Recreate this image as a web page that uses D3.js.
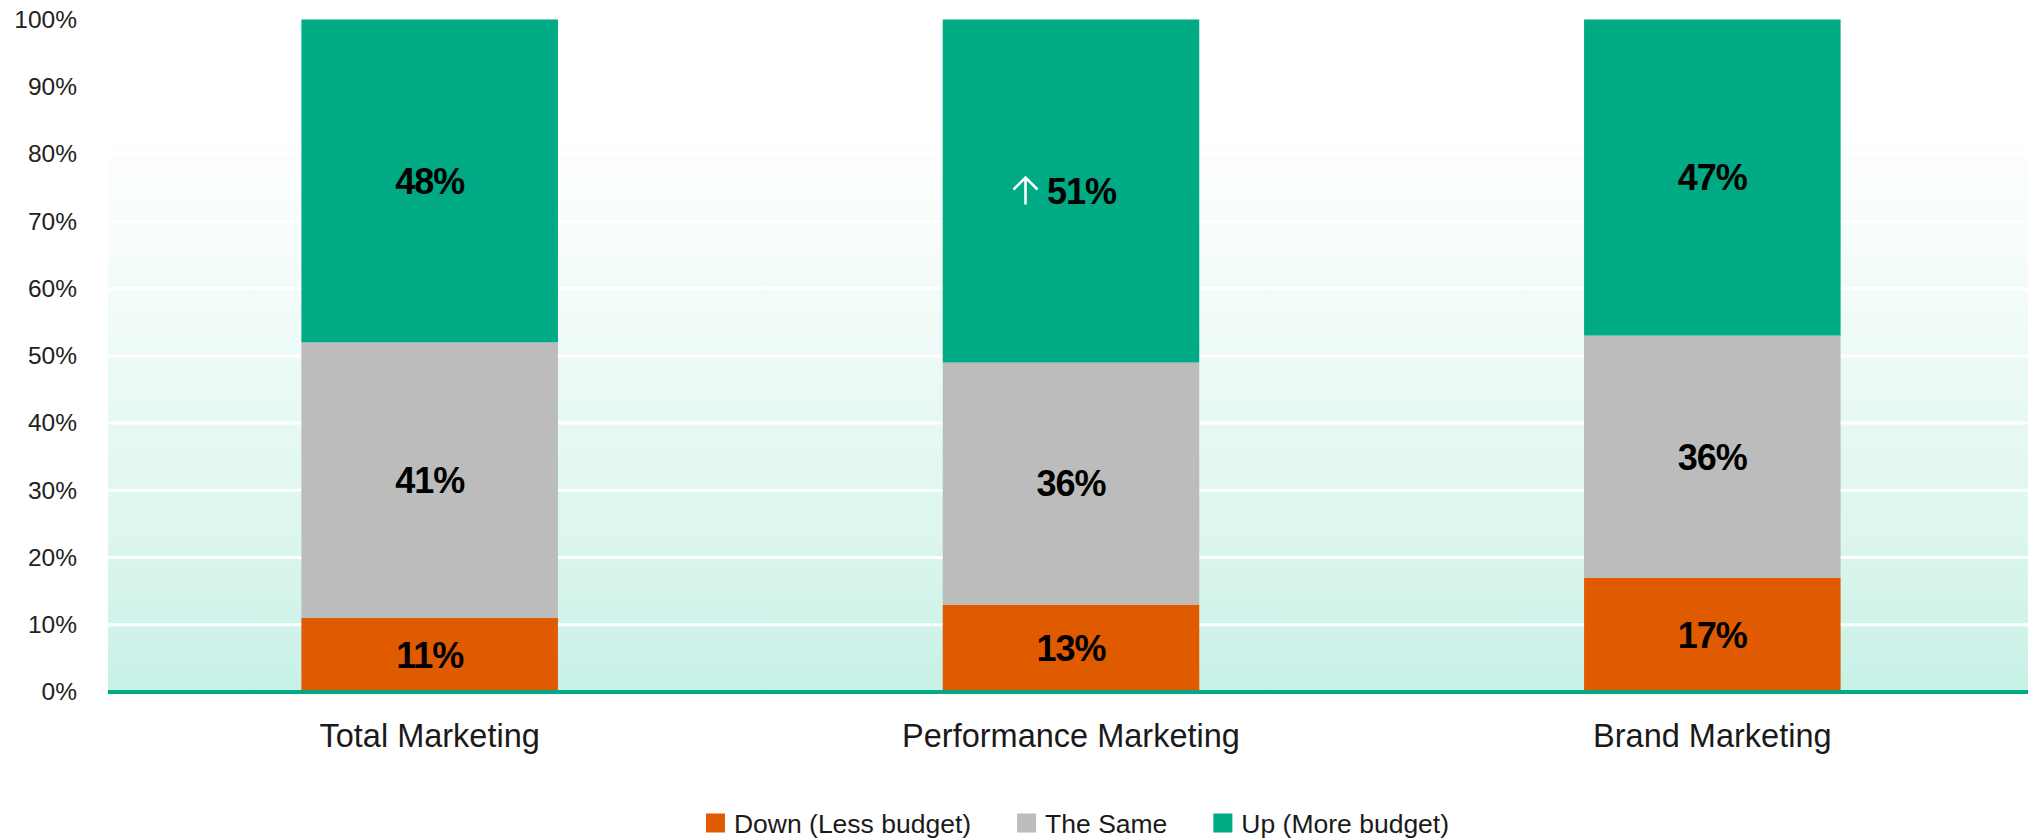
<!DOCTYPE html>
<html>
<head>
<meta charset="utf-8">
<script src="https://cdn.jsdelivr.net/npm/d3@7"></script>
<style>
  html, body { margin: 0; padding: 0; background: #ffffff; }
  svg { display: block; }
</style>
</head>
<body>
<svg id="chart" width="2028" height="839"></svg>
<script>
// ---- data ----
const categories = ["Total Marketing", "Performance Marketing", "Brand Marketing"];
const seriesNames = ["Down (Less budget)", "The Same", "Up (More budget)"];
const downValues = [11, 13, 17];
const sameValues = [41, 36, 36];
const upValues = [48, 51, 47];
const yTicks = [0, 10, 20, 30, 40, 50, 60, 70, 80, 90, 100];
const arrowCategories = ["Performance Marketing"];

const colors = ["#E05A00", "#BBBCBB", "#00AA84"];

// ---- layout ----
const plotLeft = 108, plotRight = 2028;
const y0 = 692, y100 = 19.5;

const svg = d3.select("#chart");

const rows = categories.map((c, i) => ({
  category: c,
  down: downValues[i], same: sameValues[i], up: upValues[i]
}));
const keys = ["down", "same", "up"];
const stack = d3.stack().keys(keys)(rows);

const x = d3.scaleBand().domain(categories).range([109, 2033]).paddingInner(0.6).paddingOuter(0.3);
const y = d3.scaleLinear().domain([0, 100]).range([y0, y100]);

// gradient background
const defs = svg.append("defs");
const grad = defs.append("linearGradient").attr("id", "bg").attr("x1", 0).attr("y1", 0).attr("x2", 0).attr("y2", 1);
grad.append("stop").attr("offset", "0%").attr("stop-color", "#ffffff");
grad.append("stop").attr("offset", "15%").attr("stop-color", "#ffffff");
grad.append("stop").attr("offset", "45%").attr("stop-color", "#f0fbf8");
grad.append("stop").attr("offset", "75%").attr("stop-color", "#def6f0");
grad.append("stop").attr("offset", "100%").attr("stop-color", "#c7f1e6");

svg.append("rect")
  .attr("x", plotLeft).attr("y", y(100))
  .attr("width", plotRight - plotLeft).attr("height", y(0) - y(100))
  .attr("fill", "url(#bg)");

// gridlines
svg.append("g")
  .selectAll("line")
  .data(yTicks.filter(d => d > 0))
  .join("line")
  .attr("x1", plotLeft).attr("x2", plotRight)
  .attr("y1", d => y(d)).attr("y2", d => y(d))
  .attr("stroke", "#ffffff").attr("stroke-width", 3);

// y axis labels
const yAxis = d3.axisLeft(y).tickValues(yTicks).tickFormat(d => d + "%").tickSize(0).tickPadding(0);
const gy = svg.append("g").attr("transform", "translate(77,0)").call(yAxis);
gy.select(".domain").remove();
gy.selectAll("text")
  .attr("font-family", "'Liberation Sans', Arial, sans-serif")
  .attr("font-size", 24.5)
  .attr("fill", "#222222");

// bars
svg.append("g")
  .selectAll("g")
  .data(stack)
  .join("g")
  .attr("fill", (d, i) => colors[i])
  .selectAll("rect")
  .data(d => d)
  .join("rect")
  .attr("x", d => x(d.data.category))
  .attr("width", x.bandwidth())
  .attr("y", d => y(d[1]))
  .attr("height", d => y(d[0]) - y(d[1]));

// axis baseline
svg.append("line")
  .attr("x1", plotLeft).attr("x2", plotRight)
  .attr("y1", y(0)).attr("y2", y(0))
  .attr("stroke", "#00AA84").attr("stroke-width", 4);

// value labels
const fs = 36;
const labelG = svg.append("g");
stack.forEach((layer, li) => {
  layer.forEach(d => {
    const cat = d.data.category;
    const cx = x(cat) + x.bandwidth() / 2;
    const cy = (y(d[0]) + y(d[1])) / 2;
    const hasArrow = li === 2 && arrowCategories.includes(cat);
    labelG.append("text")
      .attr("x", hasArrow ? cx + 10.5 : cx)
      .attr("y", cy + fs * 0.36)
      .attr("text-anchor", "middle")
      .attr("font-family", "'Liberation Sans', Arial, sans-serif")
      .attr("font-weight", "bold")
      .attr("font-size", fs)
      .attr("letter-spacing", -1)
      .attr("fill", "#000000")
      .text(d.data[keys[li]] + "%");
    if (hasArrow) {
      const ax = cx - 45.5, top = cy - 13.5, bot = cy + 13.5;
      labelG.append("path")
        .attr("d", `M${ax},${bot} L${ax},${top + 1} M${ax - 12},${top + 12} L${ax},${top} L${ax + 12},${top + 12}`)
        .attr("fill", "none")
        .attr("stroke", "#ffffff")
        .attr("stroke-width", 2.6)
        .attr("stroke-linecap", "butt")
        .attr("stroke-linejoin", "miter");
    }
  });
});

// category labels
svg.append("g")
  .selectAll("text")
  .data(categories)
  .join("text")
  .attr("x", d => x(d) + x.bandwidth() / 2)
  .attr("y", 747)
  .attr("text-anchor", "middle")
  .attr("font-family", "'Liberation Sans', Arial, sans-serif")
  .attr("font-size", 32.5)
  .attr("fill", "#1a1a1a")
  .text(d => d);

// legend
const legend = svg.append("g");
const sq = 19, gapText = 9, gapItem = 46, legY = 823, lfs = 26.5;
let cursor = 0;
seriesNames.forEach((name, i) => {
  const g = legend.append("g").attr("transform", `translate(${cursor},0)`);
  g.append("rect").attr("x", 0).attr("y", legY - sq / 2).attr("width", sq).attr("height", sq).attr("fill", colors[i]);
  const t = g.append("text")
    .attr("x", sq + gapText)
    .attr("y", legY + lfs * 0.36)
    .attr("font-family", "'Liberation Sans', Arial, sans-serif")
    .attr("font-size", lfs)
    .attr("fill", "#1a1a1a")
    .text(name);
  const tw = t.node().getComputedTextLength();
  cursor += sq + gapText + tw + gapItem;
});
const totalW = cursor - gapItem;
legend.attr("transform", `translate(${1077.5 - totalW / 2},0)`);
</script>
</body>
</html>
